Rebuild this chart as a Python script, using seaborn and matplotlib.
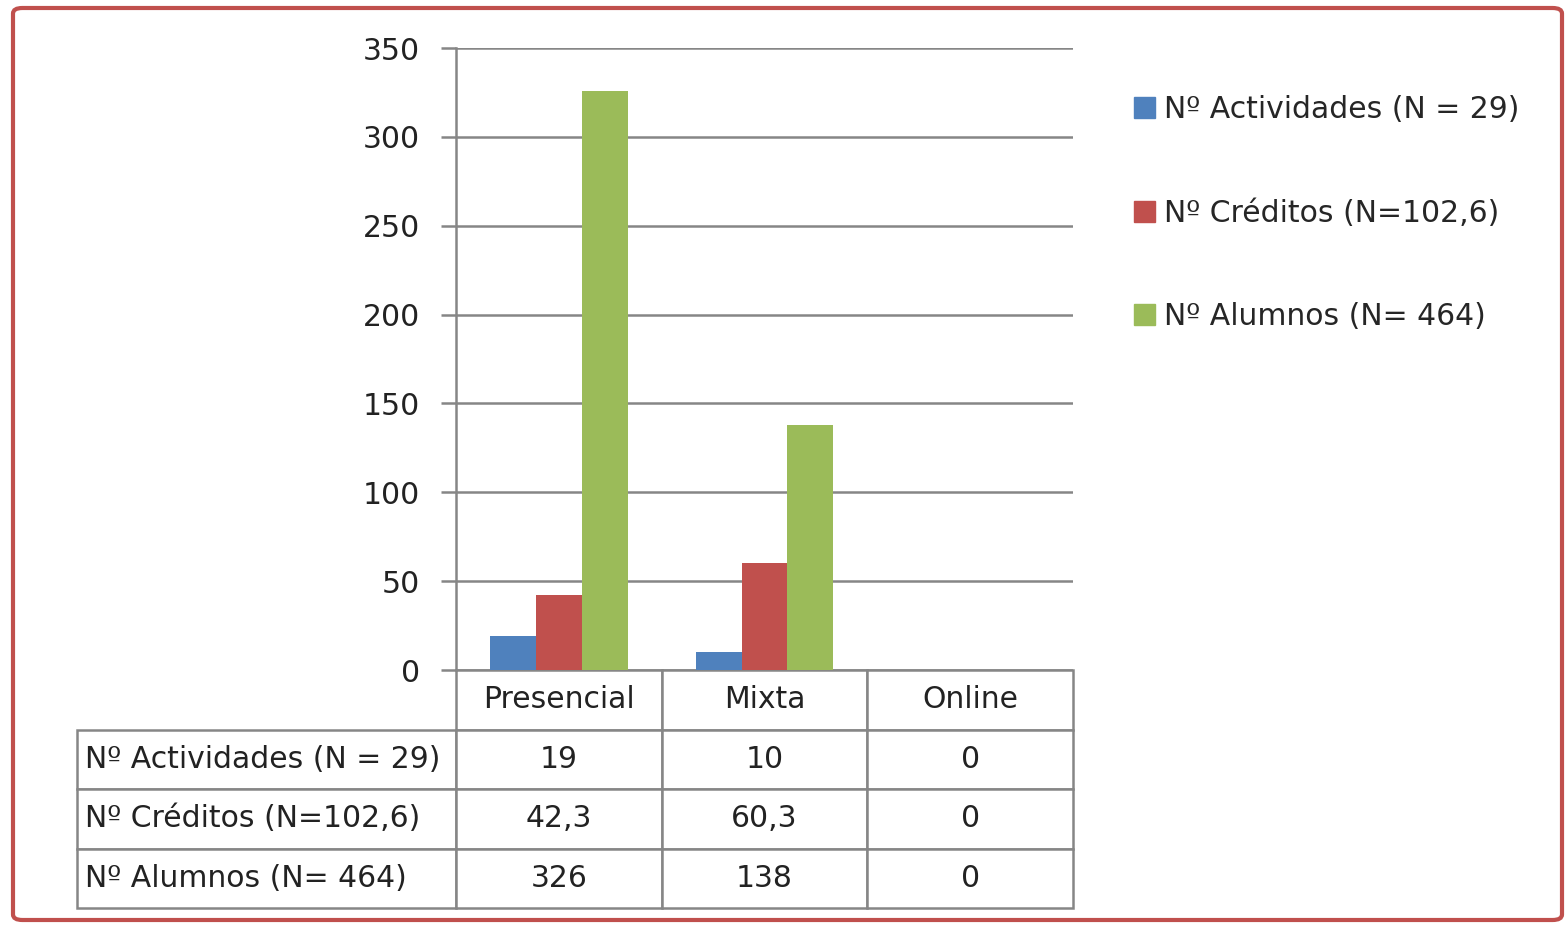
import pandas as pd
import seaborn as sns
import matplotlib.pyplot as plt
from matplotlib.patches import FancyBboxPatch
from matplotlib.table import Table

# Data
categorias = ['Presencial', 'Mixta', 'Online']
series = ['Nº Actividades (N = 29)', 'Nº Créditos (N=102,6)', 'Nº Alumnos (N= 464)']
actividades = [19, 10, 0]
creditos = [42.3, 60.3, 0]
alumnos = [326, 138, 0]
colores = ['#4F81BD', '#C0504D', '#9BBB59']
yticks = [0, 50, 100, 150, 200, 250, 300, 350]

valores = [actividades, creditos, alumnos]
df = pd.DataFrame({
    'modalidad': categorias * len(series),
    'valor': actividades + creditos + alumnos,
    'serie': [s for s in series for _ in categorias],
})

sns.set_theme(style='white')
plt.rcParams['font.family'] = ['DejaVu Sans']
gris = '#868686'
fs = 21.5

fig = plt.figure(figsize=(15.66, 9.26), dpi=100)
ax = fig.add_axes([456 / 1566, 1 - 670 / 926, 617 / 1566, 622 / 926])

sns.barplot(data=df, x='modalidad', y='valor', hue='serie', palette=colores,
            width=0.67, gap=0, saturation=1, linewidth=0, ax=ax)

ax.set_ylim(0, 350)
ax.set_yticks(yticks)
ax.set_yticklabels([str(t) for t in yticks], fontsize=fs, color='#222222')
ax.yaxis.grid(True, color=gris, linewidth=1.8)
ax.set_axisbelow(True)
ax.set_xlabel('')
ax.set_ylabel('')
ax.set_xticklabels([])
ax.tick_params(axis='x', bottom=False)
ax.tick_params(axis='y', left=True, length=11, width=1.8, color=gris, pad=15)
for s in ['top', 'right', 'bottom']:
    ax.spines[s].set_visible(False)
ax.spines['left'].set_color(gris)
ax.spines['left'].set_linewidth(1.8)

# legend
ax.get_legend().remove()
handles = [plt.Rectangle((0, 0), 1, 1, color=c) for c in colores]
fig.legend(handles, series, loc='upper left',
           bbox_to_anchor=(1119 / 1566, 1 - 80 / 926), bbox_transform=fig.transFigure,
           frameon=False, fontsize=fs, labelspacing=2.5, handlelength=0.72,
           handleheight=0.72, handletextpad=0.3, borderpad=0)

# data table under the axis
def fmt(v):
    return f'{v:g}'.replace('.', ',')

ancho_cat = 205.7
ancho_lab = 379
alto = 1
tabla = Table(ax, bbox=[-379 / 617, -238 / 622, 996 / 617, 238 / 622])
for j, cat in enumerate(categorias):
    tabla.add_cell(0, j + 1, ancho_cat, alto, text=cat, loc='center')
for i, (nombre, fila) in enumerate(zip(series, valores)):
    celda = tabla.add_cell(i + 1, 0, ancho_lab, alto, text=nombre, loc='left')
    celda.PAD = 0.02
    for j, v in enumerate(fila):
        tabla.add_cell(i + 1, j + 1, ancho_cat, alto, text=fmt(v), loc='center')
tabla.auto_set_font_size(False)
tabla.set_fontsize(fs)
for (r, c), cell in tabla.get_celld().items():
    cell.set_edgecolor(gris)
    cell.set_linewidth(1.8)
    cell.get_text().set_color('#222222')
ax.add_table(tabla)

# rounded red border around the chart
borde = FancyBboxPatch((13 / 1566, 6 / 926), 1549 / 1566, 912 / 926,
                       boxstyle='round,pad=0,rounding_size=0.006',
                       transform=fig.transFigure, facecolor='none',
                       edgecolor='#C0504D', linewidth=3)
fig.patches.append(borde)

fig.savefig('out.png', dpi=100)
